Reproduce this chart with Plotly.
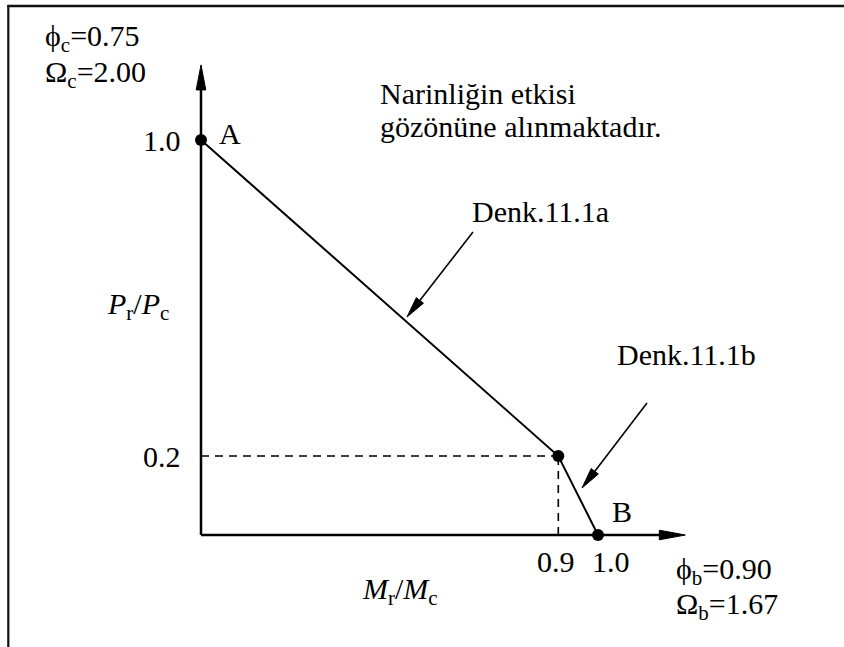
import math
import plotly.graph_objects as go

# ---- chart values -------------------------------------------------------
curve_x = [0.0, 0.9, 1.0]          # M_r / M_c
curve_y = [1.0, 0.2, 0.0]          # P_r / P_c
point_names = ["A", "", "B"]
y_tick_vals = [1.0, 0.2]
y_tick_text = ["1.0", "0.2"]
x_tick_vals = [0.9, 1.0]
x_tick_text = ["0.9", "1.0"]
x_axis_end = 1.22
y_axis_end = 1.19

# ---- page geometry ------------------------------------------------------
W, H = 844, 647
X0_PX, Y0_PX = 201, 535            # pixel position of the origin
PX_PER_X, PX_PER_Y = 397, 395      # pixels per unit on each axis

x_range = [-X0_PX / PX_PER_X, (W - X0_PX) / PX_PER_X]
y_range = [(Y0_PX - H) / PX_PER_Y, Y0_PX / PX_PER_Y]

FONT = '"Liberation Serif", "Times New Roman", Times, serif'
FS = 30


def dx(px):
    return (px - X0_PX) / PX_PER_X


def dy(py):
    return (Y0_PX - py) / PX_PER_Y


def to_px(x, y):
    return X0_PX + x * PX_PER_X, Y0_PX - y * PX_PER_Y


def arrow_shapes(tail, tip, head_len, half_w, width):
    """Shaft plus a slim filled head, built in data coordinates."""
    tx, ty = to_px(*tail)
    hx, hy = to_px(*tip)
    L = math.hypot(hx - tx, hy - ty)
    ux, uy = (hx - tx) / L, (hy - ty) / L
    bx, by = hx - ux * head_len, hy - uy * head_len
    nx, ny = -uy, ux
    c1 = (dx(bx + nx * half_w), dy(by + ny * half_w))
    c2 = (dx(bx - nx * half_w), dy(by - ny * half_w))
    base = (dx(bx + ux * 2), dy(by + uy * 2))
    shaft = dict(type="line", xref="x", yref="y",
                 x0=tail[0], y0=tail[1], x1=base[0], y1=base[1],
                 line=dict(color="black", width=width))
    head = dict(type="path", xref="x", yref="y",
                path=f"M{tip[0]},{tip[1]} L{c1[0]},{c1[1]} L{c2[0]},{c2[1]} Z",
                fillcolor="black", line=dict(color="black", width=1))
    return [shaft, head]


fig = go.Figure()

# guide lines to the break point
bx, by = curve_x[1], curve_y[1]
fig.add_trace(go.Scatter(x=[0, bx], y=[by, by], mode="lines",
                         line=dict(color="black", width=1.6, dash="8px,6px"),
                         hoverinfo="skip"))
fig.add_trace(go.Scatter(x=[bx, bx], y=[0, by], mode="lines",
                         line=dict(color="black", width=1.6, dash="8px,6px"),
                         hoverinfo="skip"))

# interaction curve
fig.add_trace(go.Scatter(x=curve_x, y=curve_y, mode="lines+markers",
                         line=dict(color="black", width=2),
                         marker=dict(color="black", size=12),
                         hoverinfo="skip"))

shapes = []
# axes with arrow tips
shapes += arrow_shapes((0, 0), (0, y_axis_end), 25, 4.8, 2.5)
shapes += arrow_shapes((0, 0), (x_axis_end, 0), 26, 4.8, 2.5)
# pointers to the two equations
shapes += arrow_shapes((dx(473), dy(232)), (dx(407), dy(317)), 21, 4.5, 1.6)
shapes += arrow_shapes((dx(647), dy(403)), (dx(582), dy(488)), 21, 4.5, 1.6)

# outer frame (top and left edges)
shapes.append(dict(type="line", xref="paper", yref="paper",
                   x0=7.5 / W, y0=1 - 6 / H, x1=1, y1=1 - 6 / H,
                   line=dict(color="#111", width=2.5)))
shapes.append(dict(type="line", xref="paper", yref="paper",
                   x0=8.3 / W, y0=1 - 5 / H, x1=8.3 / W, y1=0,
                   line=dict(color="#111", width=2.2)))

ann = []


def text(s, x, y, xanchor="left", yanchor="middle", size=FS, **kw):
    ann.append(dict(text=s, x=x, y=y, xref="x", yref="y", showarrow=False,
                    xanchor=xanchor, yanchor=yanchor,
                    font=dict(family=FONT, size=size, color="black"),
                    **kw))


# tick labels
for v, t in zip(y_tick_vals, y_tick_text):
    text(t, 0, v, xanchor="right", xshift=-18)
for v, t, sh in zip(x_tick_vals, x_tick_text, [-2, 13]):
    text(t, v, 0, xanchor="center", xshift=sh, yshift=-26)

# point names
for x, y, n, (sx, sy) in zip(curve_x, curve_y, point_names,
                             [(16, 7), (0, 0), (12, 24)]):
    if n:
        text(n, x, y, xshift=sx, yshift=sy)

# axis titles
text("<i>P</i><sub>r</sub>/<i>P</i><sub>c</sub>", dx(105), dy(306))
text("<i>M</i><sub>r</sub>/<i>M</i><sub>c</sub>", dx(400), dy(591), xanchor="center")

# resistance factors
text("\u03d5<sub>c</sub>=0.75", dx(43), dy(38))
text("\u03a9<sub>c</sub>=2.00", dx(43), dy(74))
text("\u03d5<sub>b</sub>=0.90", dx(674), dy(571))
text("\u03a9<sub>b</sub>=1.67", dx(674), dy(606))

# notes
text("Narinliğin etkisi", dx(378), dy(93))
text("gözönüne alınmaktadır.", dx(378), dy(126))
text("Denk.11.1a", dx(470), dy(211))
text("Denk.11.1b", dx(615), dy(354))

fig.update_layout(
    width=W, height=H,
    margin=dict(l=0, r=0, t=0, b=0),
    paper_bgcolor="white", plot_bgcolor="white",
    showlegend=False,
    font=dict(family=FONT, size=FS, color="black"),
    xaxis=dict(range=x_range, visible=False, fixedrange=True),
    yaxis=dict(range=y_range, visible=False, fixedrange=True),
    shapes=shapes,
    annotations=ann,
)

fig.write_html("out.html")
